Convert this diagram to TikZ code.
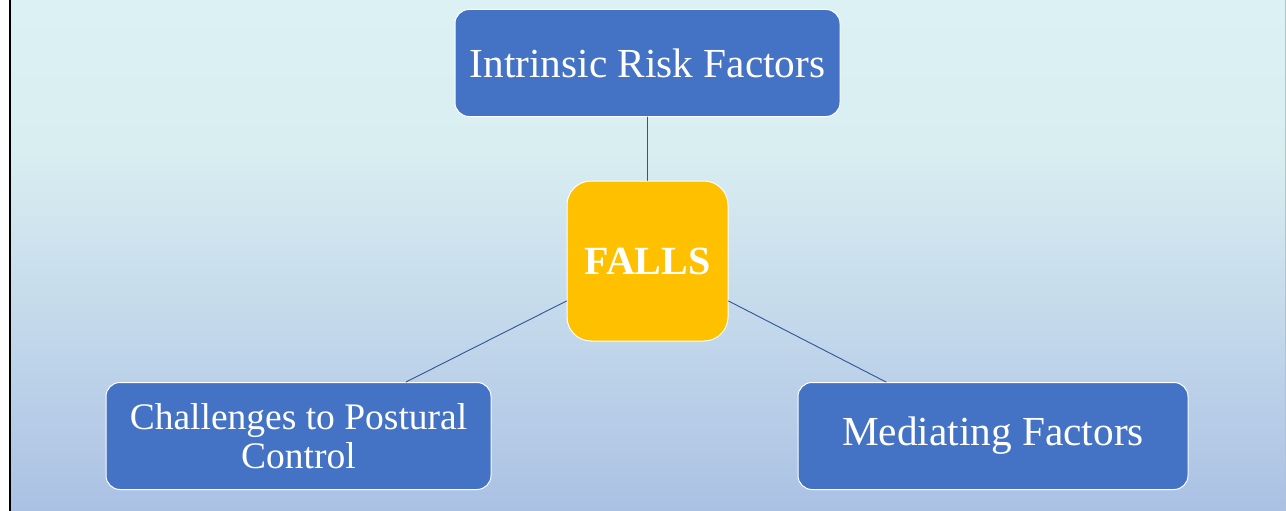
\documentclass[tikz,border=0pt]{standalone}
\usepackage{fontspec}
\setmainfont{Liberation Serif}
\usetikzlibrary{positioning}
\definecolor{boxblue}{HTML}{4472C4}
\definecolor{fallsgold}{HTML}{FFC000}
\definecolor{linkblue}{HTML}{2F5597}
\definecolor{bgtop}{HTML}{DCF1F3}
\definecolor{bgmid}{HTML}{D9EEF1}
\definecolor{bgbot}{HTML}{ABC1E4}
\begin{document}
\begin{tikzpicture}[x=1pt, y=-1pt, line join=round, line cap=round,
	factor/.style={draw=white, line width=1pt, fill=boxblue, rounded corners=14pt, text=white, align=center, inner sep=0pt, minimum height=107pt, font=\fontsize{41.3}{44}\selectfont},
	link/.style={draw=linkblue, line width=0.9pt}]
					\useasboundingbox (0,0) rectangle (1286,511);
					\fill[white] (0,0) rectangle (1286,511);
					\shade[top color=bgtop, bottom color=bgmid] (10,0) rectangle (1286,151);
					\shade[top color=bgmid, bottom color=bgbot] (10,150) rectangle (1286,511);
					\draw[line width=2.5pt, line cap=butt] (10,0) -- (10,511);
					\draw[gray!50, line width=1pt, line cap=butt] (1285.5,0) -- (1285.5,511);
					\node[factor, minimum width=385pt] (intrinsic) at (647.5,63) {Intrinsic Risk Factors};
					\node[draw=white, line width=1pt, fill=fallsgold, rounded corners=24pt, minimum width=161pt, minimum height=160pt, text=white, font=\bfseries\fontsize{40}{44}\selectfont] (falls) at (647.5,261) {FALLS};
					\node[factor, minimum width=385pt, font=\fontsize{37.5}{39}\selectfont] (postural) at (298.5,436) {Challenges to Postural\\Control};
					\node[factor, minimum width=390pt] (mediating) at (993,436) {Mediating Factors};
					\draw[link] (intrinsic) -- (falls);
					\draw[link] ([yshift=-40pt]falls.west) -- ([xshift=107.5pt]postural.north);
					\draw[link] ([yshift=-40pt]falls.east) -- ([xshift=-107pt]mediating.north);
\end{tikzpicture}
\end{document}
